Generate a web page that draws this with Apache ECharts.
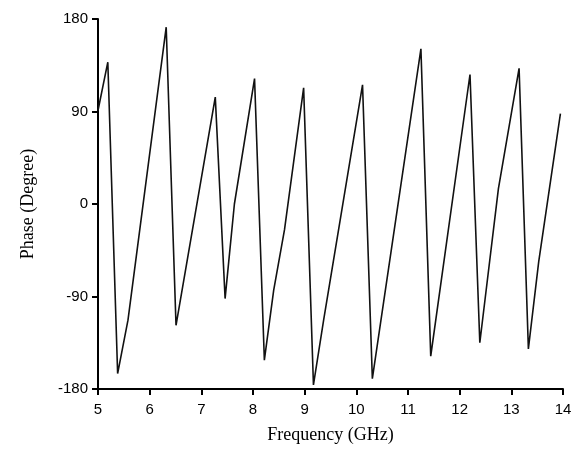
<!DOCTYPE html>
<html>
<head>
<meta charset="utf-8">
<script src="https://cdn.jsdelivr.net/npm/echarts@6/dist/echarts.min.js"></script>
<style>
	html, body { margin: 0; padding: 0; background: #fff; }
	#echart { width: 581px; height: 449px; }
</style>
</head>
<body>
<div id="echart"></div>
<script>
// values (vertices of the trace)
let freq = [5.00, 5.19, 5.38, 5.58, 6.32, 6.51, 7.27, 7.46, 7.64, 8.03, 8.22, 8.40, 8.61, 8.98,
	9.17, 9.37, 10.12, 10.31, 11.25, 11.44, 12.20, 12.39, 12.75, 13.15, 13.33, 13.53, 13.95];
let phase = [91, 138, -165, -113, 172, -118, 104, -92, 0, 122, -152, -84, -25, 113,
	-176, -112, 116, -170, 151, -148, 126, -135, 15, 132, -141, -56, 88];
let xTicks = [5, 6, 7, 8, 9, 10, 11, 12, 13, 14];
let yTicks = [-180, -90, 0, 90, 180];

function drawChart() {
	let dom = document.getElementById("echart");
	let myChart = echarts.init(dom, null, { renderer: 'canvas' });
	let option;

	let axisLine = { show: true, onZero: false, lineStyle: { color: '#000', width: 2 } };
	let axisTick = { show: true, length: 6, lineStyle: { color: '#000', width: 2 } };

	option = {
		animation: false,
		backgroundColor: '#fff',
		grid: {
			left: 98,
			right: 18,
			top: 19,
			bottom: 59,
			containLabel: false
		},
		xAxis: {
			type: 'value',
			min: xTicks[0],
			max: xTicks[xTicks.length - 1],
			interval: 1,
			name: 'Frequency (GHz)',
			nameLocation: 'middle',
			nameGap: 37,
			nameTextStyle: { fontFamily: 'Liberation Serif', fontSize: 18, color: '#000' },
			axisLine: axisLine,
			axisTick: axisTick,
			splitLine: { show: false },
			axisLabel: {
				margin: 13,
				fontFamily: 'Liberation Sans',
				fontSize: 15,
				color: '#000'
			}
		},
		yAxis: {
			type: 'value',
			min: yTicks[0],
			max: yTicks[yTicks.length - 1],
			interval: 90,
			name: 'Phase (Degree)',
			nameLocation: 'middle',
			nameGap: 61,
			nameTextStyle: { fontFamily: 'Liberation Serif', fontSize: 18, color: '#000' },
			axisLine: axisLine,
			axisTick: axisTick,
			splitLine: { show: false },
			axisLabel: {
				margin: 10,
				fontFamily: 'Liberation Sans',
				fontSize: 15,
				color: '#000'
			}
		},
		series: [
			{
				type: 'line',
				data: freq.map((f, i) => [f, phase[i]]),
				showSymbol: false,
				lineStyle: { color: '#111', width: 1.6 }
			}
		]
	};

	myChart.setOption(option);
}

drawChart();
</script>
</body>
</html>
